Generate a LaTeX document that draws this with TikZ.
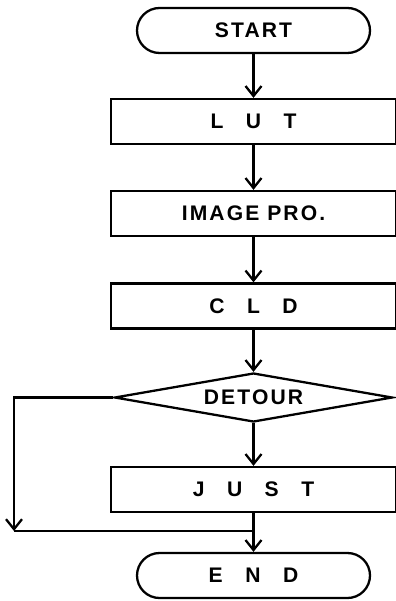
\documentclass[tikz,border=0pt]{standalone}
\usepackage{fontspec}
\setmainfont{Liberation Sans}
\newfontfamily\flowfont[LetterSpace=10]{Liberation Sans}
\usepackage{tikz}
\usetikzlibrary{arrows.meta,shapes.geometric}
\newcommand{\wgap}{\hspace{0.45cm}}

\begin{document}
\begin{tikzpicture}[line width=1.3pt,
    every node/.style={font=\flowfont\bfseries\fontsize{12}{14}\selectfont},
    flowline/.style={-{Straight Barb[length=2mm,width=3.2mm]}},
    pill/.style={draw,rectangle,rounded corners=0.45cm,minimum width=4.66cm,minimum height=0.9cm},
    procbox/.style={draw,rectangle,minimum width=5.7cm,minimum height=0.9cm},
    decision/.style={draw,diamond,aspect=5.6,inner sep=0pt,minimum width=5.56cm,minimum height=0.98cm}]
    \useasboundingbox (0,0) rectangle (7.92,-12.02);
    \node[pill] (start) at (5.07,-0.61) {START};
    \node[procbox] (lut) at (5.07,-2.43) {L\wgap U\wgap T};
    \node[procbox] (imgpro) at (5.07,-4.27) {IMAGE PRO.};
    \node[procbox] (cld) at (5.07,-6.12) {C\wgap L\wgap D};
    \node[decision] (detour) at (5.07,-7.95) {DETOUR};
    \node[procbox] (just) at (5.07,-9.79) {J\wgap U\wgap S\wgap T};
    \node[pill] (end) at (5.07,-11.51) {E\wgap N\wgap D};
    \coordinate (lc) at (0.28,-10.62);
    \coordinate (jn) at (just.south |- lc);
    \draw[flowline] (start) -- (lut);
    \draw[flowline] (lut) -- (imgpro);
    \draw[flowline] (imgpro) -- (cld);
    \draw[flowline] (cld) -- (detour);
    \draw[flowline] (detour) -- (just);
    \draw[flowline] (just) -- (end);
    \draw[flowline] (detour.west) -| (lc);
    \draw (lc) -- (jn);
  \end{tikzpicture}
\end{document}
